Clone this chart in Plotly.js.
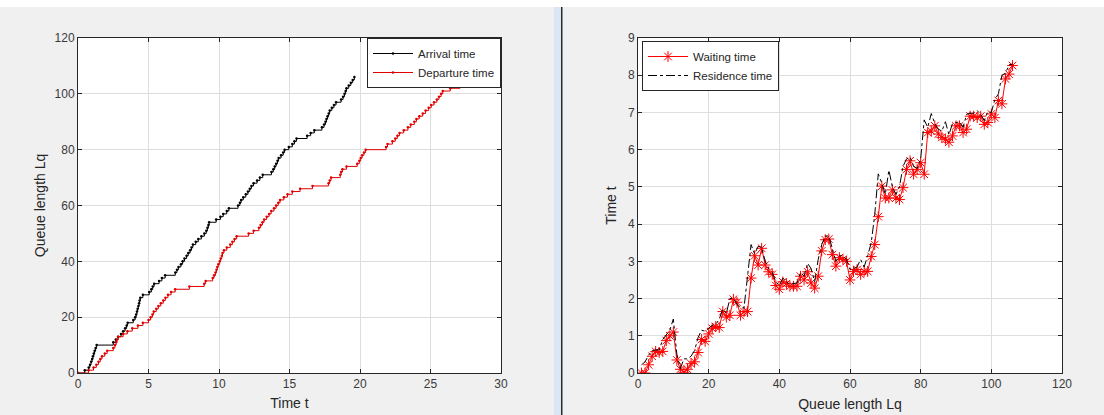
<!DOCTYPE html>
<html>
<head>
<meta charset="utf-8">
<script src="https://cdn.plot.ly/plotly-3.0.1.min.js"></script>
<style>
html,body{margin:0;padding:0;background:#f0f0f0;}
#chart{width:1104px;height:415px;}
</style>
</head>
<body>
<div id="chart"></div>
<script>
// Customer index (queue length Lq)
const customers = [1,2,3,4,5,6,7,8,9,10,11,12,13,14,15,16,17,18,19,20,21,22,23,24,25,26,27,28,29,30,31,32,33,34,35,36,37,38,39,40,41,42,43,44,45,46,47,48,49,50,51,52,53,54,55,56,57,58,59,60,61,62,63,64,65,66,67,68,69,70,71,72,73,74,75,76,77,78,79,80,81,82,83,84,85,86,87,88,89,90,91,92,93,94,95,96,97,98,99,100,101,102,103,104,105,106];

// Arrival times (left plot, black staircase)
const arrivalTimes = [0.48,0.76,0.85,0.93,1.0,1.06,1.12,1.18,1.25,1.32,
2.5,2.68,2.84,3.05,3.2,3.34,3.45,3.52,3.92,4.05,
4.12,4.18,4.23,4.28,4.33,4.37,4.42,4.6,5.05,5.2,
5.3,5.4,5.75,5.95,6.18,6.9,7.02,7.13,7.3,7.42,
7.55,7.7,7.82,7.95,8.05,8.15,8.35,8.53,8.75,8.96,
9.1,9.18,9.25,9.3,9.8,10.1,10.3,10.55,10.7,11.35,
11.48,11.57,11.72,11.9,12.05,12.18,12.3,12.45,12.7,12.9,
13.1,13.72,13.85,13.95,14.05,14.15,14.23,14.4,14.55,14.65,
14.95,15.2,15.35,15.5,16.25,16.5,16.76,17.3,17.45,17.55,
17.62,17.7,17.78,17.85,18.0,18.15,18.3,18.66,18.8,18.9,
18.98,19.04,19.2,19.35,19.48,19.6];

// Departure times (left plot, red staircase)
const departureTimes = [0.75,1.1,1.3,1.45,1.58,1.7,1.9,2.07,2.5,2.62,
2.7,2.77,2.85,3.2,3.5,3.85,4.25,4.6,5.0,5.15,
5.28,5.37,5.55,5.7,5.87,6.05,6.2,6.38,6.6,6.89,
7.9,8.95,9.05,9.55,9.65,9.75,9.82,9.88,9.95,10.05,
10.12,10.2,10.25,10.35,10.55,10.8,10.95,11.1,11.25,12.1,
12.45,12.83,12.95,13.08,13.2,13.38,13.55,13.7,13.9,14.05,
14.2,14.33,14.6,14.86,15.2,15.75,16.63,17.77,17.85,17.95,
18.6,18.66,18.75,19.04,19.8,19.95,20.05,20.15,20.28,20.4,
21.85,21.95,22.3,22.5,22.65,22.8,23.1,23.4,23.6,23.85,
24.0,24.2,24.45,24.65,24.87,25.05,25.25,25.45,25.6,25.75,
25.87,26.4,27.1,27.3,27.5,27.77];

// Waiting times (right plot, red with stars)
const waitingTimes = [0.0,0.0,0.22,0.45,0.58,0.55,0.58,0.87,1.0,1.1,
0.35,0.1,0.02,0.1,0.25,0.3,0.55,0.9,0.85,1.05,
1.2,1.25,1.22,1.65,1.5,1.55,1.98,1.9,1.55,1.65,
1.65,2.55,3.15,2.9,3.35,2.9,2.72,2.65,2.35,2.25,
2.45,2.4,2.33,2.33,2.33,2.6,2.5,2.72,2.42,2.28,
2.6,3.28,3.58,3.6,3.18,2.87,3.1,3.05,3.0,2.5,
2.73,2.78,2.65,2.73,2.73,3.13,3.45,4.2,5.02,4.7,
4.7,4.92,4.7,4.66,4.98,5.47,5.7,5.34,5.47,5.65,
5.34,6.46,6.5,6.64,6.42,6.33,6.28,6.2,6.37,6.64,
6.64,6.46,6.55,6.9,6.9,6.86,6.9,6.68,6.73,6.96,
6.86,7.32,7.23,7.9,8.03,8.26];

// Residence times (right plot, black dash-dot)
const residenceTimes = [0.22,0.3,0.48,0.6,0.62,0.62,0.9,1.02,1.15,1.45,
0.5,0.12,0.38,0.38,0.45,0.6,0.95,1.15,1.12,1.2,
1.28,1.3,1.45,1.72,1.6,2.0,2.0,1.85,1.75,1.75,
2.6,3.45,3.2,3.4,3.38,3.0,2.8,2.7,2.45,2.35,
2.55,2.45,2.38,2.4,2.42,2.7,2.6,2.95,2.8,2.45,
3.05,3.45,3.68,3.68,3.3,3.0,3.15,3.15,3.05,2.78,
2.8,2.85,3.05,2.85,3.15,3.5,4.25,5.35,5.1,4.8,
5.45,5.0,4.8,5.0,5.55,5.75,5.8,5.55,5.5,5.75,
6.8,6.6,6.97,6.7,6.55,6.5,6.75,6.4,6.7,6.72,
6.75,6.6,6.95,6.98,6.98,7.05,6.95,6.78,7.02,7.0,
7.35,7.5,8.0,8.05,8.28,8.3];

const leftXTicks = [0,5,10,15,20,25,30];
const leftYTicks = [0,20,40,60,80,100,120];
const rightXTicks = [0,20,40,60,80,100,120];
const rightYTicks = [0,1,2,3,4,5,6,7,8,9];

const FONT = 'Liberation Sans, Arial, Helvetica, sans-serif';
const AX = '#262626';

const traces = [
  {x:[0].concat(arrivalTimes), y:[0].concat(customers), type:'scatter', mode:'lines+markers',
   line:{color:'#000000', width:1, shape:'hv'}, marker:{color:'#000000', size:2.5},
   name:'Arrival time', xaxis:'x', yaxis:'y', legend:'legend'},
  {x:[0].concat(departureTimes), y:[0].concat(customers), type:'scatter', mode:'lines+markers',
   line:{color:'#e00000', width:1, shape:'hv'}, marker:{color:'#e00000', size:2.5},
   name:'Departure time', xaxis:'x', yaxis:'y', legend:'legend'},
  {x:customers, y:waitingTimes, type:'scatter', mode:'lines+markers',
   line:{color:'#ff0000', width:1}, marker:{symbol:'asterisk-open', size:9, color:'#ff0000', line:{color:'#ff0000', width:1}},
   name:'Waiting time', xaxis:'x2', yaxis:'y2', legend:'legend2'},
  {x:customers, y:residenceTimes, type:'scatter', mode:'lines',
   line:{color:'#000000', width:1, dash:'dashdot'},
   name:'Residence time', xaxis:'x2', yaxis:'y2', legend:'legend2'}
];

function axis(extra){
  return Object.assign({
    showline:true, linecolor:AX, linewidth:1, mirror:'allticks',
    ticks:'inside', ticklen:4, tickcolor:AX, tickwidth:1,
    showgrid:true, gridcolor:'#dedede', gridwidth:1, zeroline:false,
    tickfont:{family:FONT, size:12, color:'#3a3a3a'},
    automargin:false
  }, extra);
}

const px = p => (p-78)/984;
const py = p => (373-p)/335;
const TF = {family:FONT, size:14, color:'#262626'};

const layout = {
  width:1104, height:415,
  paper_bgcolor:'#f0f0f0', plot_bgcolor:'#ffffff',
  margin:{l:78, r:42, t:38, b:42},
  font:{family:FONT, color:AX},
  showlegend:true,
  xaxis: axis({domain:[0, px(501)], range:[0,30], tickvals:leftXTicks, anchor:'y',
    title:{text:'Time t', font:TF, standoff:7}, automargin:false}),
  yaxis: axis({domain:[0,1], range:[0,120], tickvals:leftYTicks, anchor:'x',
    title:{text:'Queue length Lq', font:TF, standoff:5}, automargin:true}),
  xaxis2: axis({domain:[px(638), 1], range:[0,120], tickvals:rightXTicks, anchor:'y2',
    title:{text:'Queue length Lq', font:TF, standoff:8}, automargin:false}),
  yaxis2: axis({domain:[0,1], range:[0,9], tickvals:rightYTicks, anchor:'x2',
    title:{text:'Time t', font:TF, standoff:8}, automargin:true}),
  legend:{x:px(501), y:1, xanchor:'right', yanchor:'top', bgcolor:'#ffffff', bordercolor:AX, borderwidth:1,
    font:{family:FONT, size:11.5, color:'#262626'}, itemwidth:40, tracegroupgap:0},
  legend2:{x:px(642), y:py(41), xanchor:'left', yanchor:'top', bgcolor:'#ffffff', bordercolor:AX, borderwidth:1,
    font:{family:FONT, size:11.5, color:'#262626'}, itemwidth:40, tracegroupgap:0},
  shapes:[
    {type:'rect', xref:'paper', yref:'paper', x0:px(0), x1:px(1104), y0:py(7), y1:py(0), fillcolor:'#ffffff', line:{width:0}, layer:'below'},
    {type:'rect', xref:'paper', yref:'paper', x0:px(554), x1:px(561), y0:py(415), y1:py(7), fillcolor:'#dae6f3', line:{width:0}, layer:'below'},
    {type:'rect', xref:'paper', yref:'paper', x0:px(561), x1:px(562.5), y0:py(415), y1:py(7), fillcolor:'#2a2a2a', line:{width:0}, layer:'below'}
  ]
};

Plotly.newPlot('chart', traces, layout, {displayModeBar:false, staticPlot:true});
</script>
</body>
</html>
